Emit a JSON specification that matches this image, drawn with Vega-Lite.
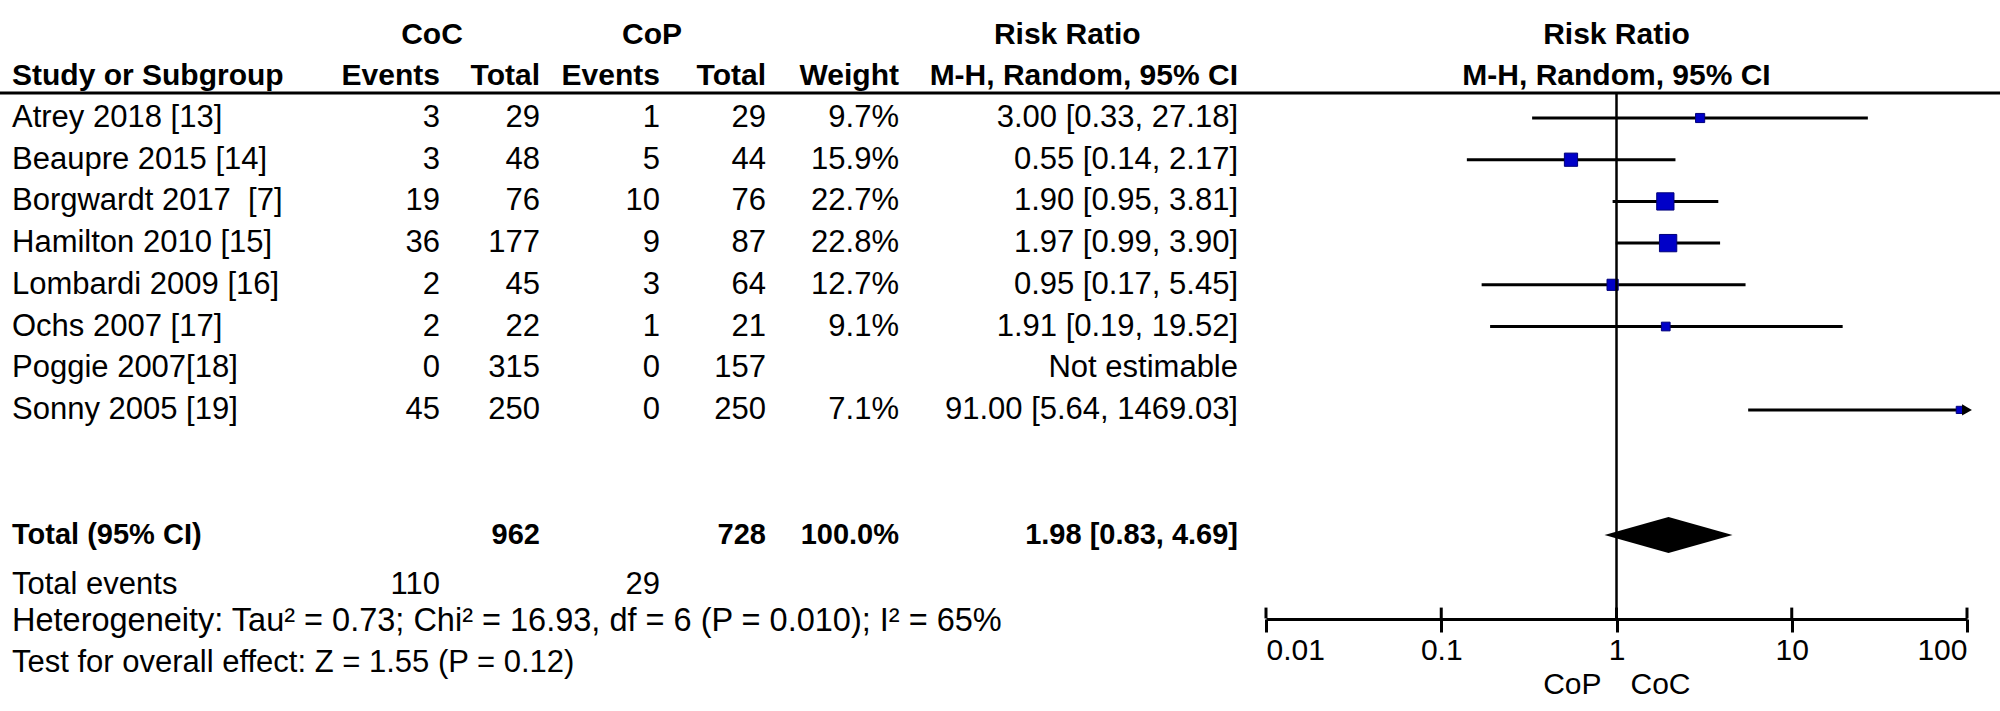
{
  "$schema": "https://vega.github.io/schema/vega-lite/v6.json",
  "width": 2000,
  "height": 711,
  "autosize": {"type": "none"},
  "padding": 0,
  "background": "white",
  "config": {
    "view": {"stroke": null},
    "text": {"font": "Liberation Sans", "fontSize": 31, "baseline": "middle", "color": "black"}
  },
  "datasets": {
    "studies": [
      {"row": 1, "study": "Atrey 2018 [13]", "coc_events": 3, "coc_total": 29, "cop_events": 1, "cop_total": 29, "weight": 0.097, "rr": 3.0, "lo": 0.33, "hi": 27.18, "ci": "3.00 [0.33, 27.18]"},
      {"row": 2, "study": "Beaupre 2015 [14]", "coc_events": 3, "coc_total": 48, "cop_events": 5, "cop_total": 44, "weight": 0.159, "rr": 0.55, "lo": 0.14, "hi": 2.17, "ci": "0.55 [0.14, 2.17]"},
      {"row": 3, "study": "Borgwardt 2017\u00a0 [7]", "coc_events": 19, "coc_total": 76, "cop_events": 10, "cop_total": 76, "weight": 0.227, "rr": 1.9, "lo": 0.95, "hi": 3.81, "ci": "1.90 [0.95, 3.81]"},
      {"row": 4, "study": "Hamilton 2010 [15]", "coc_events": 36, "coc_total": 177, "cop_events": 9, "cop_total": 87, "weight": 0.228, "rr": 1.97, "lo": 0.99, "hi": 3.9, "ci": "1.97 [0.99, 3.90]"},
      {"row": 5, "study": "Lombardi 2009 [16]", "coc_events": 2, "coc_total": 45, "cop_events": 3, "cop_total": 64, "weight": 0.127, "rr": 0.95, "lo": 0.17, "hi": 5.45, "ci": "0.95 [0.17, 5.45]"},
      {"row": 6, "study": "Ochs 2007 [17]", "coc_events": 2, "coc_total": 22, "cop_events": 1, "cop_total": 21, "weight": 0.091, "rr": 1.91, "lo": 0.19, "hi": 19.52, "ci": "1.91 [0.19, 19.52]"},
      {"row": 7, "study": "Poggie 2007[18]", "coc_events": 0, "coc_total": 315, "cop_events": 0, "cop_total": 157, "weight": null, "rr": null, "lo": null, "hi": null, "ci": "Not estimable"},
      {"row": 8, "study": "Sonny 2005 [19]", "coc_events": 45, "coc_total": 250, "cop_events": 0, "cop_total": 250, "weight": 0.071, "rr": 91.0, "lo": 5.64, "hi": 1469.03, "ci": "91.00 [5.64, 1469.03]"}
    ],
    "total": [
      {"row": 11, "label": "Total (95% CI)", "coc_total": 962, "cop_total": 728, "weight": 1.0, "rr": 1.98, "lo": 0.83, "hi": 4.69, "ci": "1.98 [0.83, 4.69]"}
    ],
    "footer": [
      {"row": 12, "label": "Total events", "coc_events": 110, "cop_events": 29},
      {"row": 13, "label": "Heterogeneity: Tau\u00b2 = 0.73; Chi\u00b2 = 16.93, df = 6 (P = 0.010); I\u00b2 = 65%"},
      {"row": 14, "label": "Test for overall effect: Z = 1.55 (P = 0.12)"}
    ],
    "hdr_cols": [
      {"row": 0, "col": 1, "label": "Events"},
      {"row": 0, "col": 2, "label": "Total"},
      {"row": 0, "col": 3, "label": "Events"},
      {"row": 0, "col": 4, "label": "Total"},
      {"row": 0, "col": 5, "label": "Weight"},
      {"row": 0, "col": 6, "label": "M-H, Random, 95% CI"}
    ],
    "hdr_groups": [
      {"row": -1, "col": 1, "label": "CoC"},
      {"row": -1, "col": 3, "label": "CoP"},
      {"row": -1, "col": 5.52, "label": "Risk Ratio"}
    ],
    "forest_hdr": [
      {"row": -1, "label": "Risk Ratio"},
      {"row": 0, "label": "M-H, Random, 95% CI"}
    ],
    "ticks": [
      {"tick": 0.01}, {"tick": 0.1}, {"tick": 1}, {"tick": 10}, {"tick": 100}
    ],
    "sides": [
      {"label": "CoP"}, {"label": "CoC"}
    ]
  },
  "layer": [
    {
      "layer": [
        {
          "data": {"name": "studies"},
          "mark": {"type": "text", "align": "left"},
          "encoding": {
            "x": {"datum": 0, "type": "quantitative", "scale": {"domain": [0, 1, 2, 3, 4, 5, 6], "range": [12, 440, 540, 660, 766, 899, 1238], "nice": false, "zero": false}, "axis": null},
            "y": {"field": "row", "type": "quantitative", "scale": {"domain": [-1.83, 15.22], "reverse": true, "nice": false, "zero": false}, "axis": null},
            "text": {"field": "study", "type": "nominal"}
          }
        },
        {
          "data": {"name": "studies"},
          "mark": {"type": "text", "align": "right"},
          "encoding": {
            "x": {"datum": 1, "type": "quantitative", "axis": null},
            "y": {"field": "row", "type": "quantitative", "axis": null},
            "text": {"field": "coc_events", "type": "nominal"}
          }
        },
        {
          "data": {"name": "studies"},
          "mark": {"type": "text", "align": "right"},
          "encoding": {
            "x": {"datum": 2, "type": "quantitative", "axis": null},
            "y": {"field": "row", "type": "quantitative", "axis": null},
            "text": {"field": "coc_total", "type": "nominal"}
          }
        },
        {
          "data": {"name": "studies"},
          "mark": {"type": "text", "align": "right"},
          "encoding": {
            "x": {"datum": 3, "type": "quantitative", "axis": null},
            "y": {"field": "row", "type": "quantitative", "axis": null},
            "text": {"field": "cop_events", "type": "nominal"}
          }
        },
        {
          "data": {"name": "studies"},
          "mark": {"type": "text", "align": "right"},
          "encoding": {
            "x": {"datum": 4, "type": "quantitative", "axis": null},
            "y": {"field": "row", "type": "quantitative", "axis": null},
            "text": {"field": "cop_total", "type": "nominal"}
          }
        },
        {
          "data": {"name": "studies"},
          "transform": [{"filter": "isValid(datum.weight)"}],
          "mark": {"type": "text", "align": "right"},
          "encoding": {
            "x": {"datum": 5, "type": "quantitative", "axis": null},
            "y": {"field": "row", "type": "quantitative", "axis": null},
            "text": {"field": "weight", "type": "quantitative", "format": ".1%"}
          }
        },
        {
          "data": {"name": "studies"},
          "mark": {"type": "text", "align": "right"},
          "encoding": {
            "x": {"datum": 6, "type": "quantitative", "axis": null},
            "y": {"field": "row", "type": "quantitative", "axis": null},
            "text": {"field": "ci", "type": "nominal"}
          }
        },
        {
          "data": {"name": "total"},
          "mark": {"type": "text", "align": "left", "fontWeight": "bold", "fontSize": 29},
          "encoding": {
            "x": {"datum": 0, "type": "quantitative", "axis": null},
            "y": {"field": "row", "type": "quantitative", "axis": null},
            "text": {"field": "label", "type": "nominal"}
          }
        },
        {
          "data": {"name": "total"},
          "mark": {"type": "text", "align": "right", "fontWeight": "bold", "fontSize": 29},
          "encoding": {
            "x": {"datum": 2, "type": "quantitative", "axis": null},
            "y": {"field": "row", "type": "quantitative", "axis": null},
            "text": {"field": "coc_total", "type": "nominal"}
          }
        },
        {
          "data": {"name": "total"},
          "mark": {"type": "text", "align": "right", "fontWeight": "bold", "fontSize": 29},
          "encoding": {
            "x": {"datum": 4, "type": "quantitative", "axis": null},
            "y": {"field": "row", "type": "quantitative", "axis": null},
            "text": {"field": "cop_total", "type": "nominal"}
          }
        },
        {
          "data": {"name": "total"},
          "mark": {"type": "text", "align": "right", "fontWeight": "bold", "fontSize": 29},
          "encoding": {
            "x": {"datum": 5, "type": "quantitative", "axis": null},
            "y": {"field": "row", "type": "quantitative", "axis": null},
            "text": {"field": "weight", "type": "quantitative", "format": ".1%"}
          }
        },
        {
          "data": {"name": "total"},
          "mark": {"type": "text", "align": "right", "fontWeight": "bold", "fontSize": 29},
          "encoding": {
            "x": {"datum": 6, "type": "quantitative", "axis": null},
            "y": {"field": "row", "type": "quantitative", "axis": null},
            "text": {"field": "ci", "type": "nominal"}
          }
        },
        {
          "data": {"name": "footer"},
          "transform": [{"filter": "datum.row == 12"}],
          "mark": {"type": "text", "align": "left", "dy": 8},
          "encoding": {
            "x": {"datum": 0, "type": "quantitative", "axis": null},
            "y": {"field": "row", "type": "quantitative", "axis": null},
            "text": {"field": "label", "type": "nominal"}
          }
        },
        {
          "data": {"name": "footer"},
          "transform": [{"filter": "datum.row == 13"}],
          "mark": {"type": "text", "align": "left", "dy": 3, "fontSize": 32.5},
          "encoding": {
            "x": {"datum": 0, "type": "quantitative", "axis": null},
            "y": {"field": "row", "type": "quantitative", "axis": null},
            "text": {"field": "label", "type": "nominal"}
          }
        },
        {
          "data": {"name": "footer"},
          "transform": [{"filter": "datum.row == 14"}],
          "mark": {"type": "text", "align": "left", "dy": 3},
          "encoding": {
            "x": {"datum": 0, "type": "quantitative", "axis": null},
            "y": {"field": "row", "type": "quantitative", "axis": null},
            "text": {"field": "label", "type": "nominal"}
          }
        },
        {
          "data": {"name": "footer"},
          "transform": [{"filter": "isValid(datum.coc_events)"}],
          "mark": {"type": "text", "align": "right", "dy": 8},
          "encoding": {
            "x": {"datum": 1, "type": "quantitative", "axis": null},
            "y": {"field": "row", "type": "quantitative", "axis": null},
            "text": {"field": "coc_events", "type": "nominal"}
          }
        },
        {
          "data": {"name": "footer"},
          "transform": [{"filter": "isValid(datum.cop_events)"}],
          "mark": {"type": "text", "align": "right", "dy": 8},
          "encoding": {
            "x": {"datum": 3, "type": "quantitative", "axis": null},
            "y": {"field": "row", "type": "quantitative", "axis": null},
            "text": {"field": "cop_events", "type": "nominal"}
          }
        },
        {
          "data": {"values": [{"label": "Study or Subgroup", "row": 0}]},
          "mark": {"type": "text", "align": "left", "fontWeight": "bold", "fontSize": 30},
          "encoding": {
            "x": {"datum": 0, "type": "quantitative", "axis": null},
            "y": {"field": "row", "type": "quantitative", "axis": null},
            "text": {"field": "label", "type": "nominal"}
          }
        },
        {
          "data": {"name": "hdr_cols"},
          "mark": {"type": "text", "align": "right", "fontWeight": "bold", "fontSize": 30},
          "encoding": {
            "x": {"field": "col", "type": "quantitative", "axis": null},
            "y": {"field": "row", "type": "quantitative", "axis": null},
            "text": {"field": "label", "type": "nominal"}
          }
        },
        {
          "data": {"name": "hdr_groups"},
          "mark": {"type": "text", "align": "center", "fontWeight": "bold", "fontSize": 30, "dx": -8},
          "encoding": {
            "x": {"field": "col", "type": "quantitative", "axis": null},
            "y": {"field": "row", "type": "quantitative", "axis": null},
            "text": {"field": "label", "type": "nominal"}
          }
        }
      ]
    },
    {
      "layer": [
        {
          "data": {"name": "studies"},
          "transform": [{"filter": "isValid(datum.rr)"}],
          "mark": {"type": "rule", "strokeWidth": 3, "color": "black"},
          "encoding": {
            "x": {
              "field": "lo", "type": "quantitative",
              "scale": {"type": "log", "domain": [0.01, 100], "range": [1266, 1967], "clamp": true, "nice": false},
              "axis": {
                "values": [0.01, 0.1, 1, 10, 100], "format": "~g", "orient": "bottom", "offset": -92,
                "title": null, "grid": false,
                "domainColor": "black", "domainWidth": 3,
                "tickColor": "black", "tickWidth": 3, "tickSize": 13,
                "labelFont": "Liberation Sans", "labelFontSize": 30, "labelColor": "black",
                "labelPadding": 3, "labelFlush": true, "labelOverlap": false
              }
            },
            "x2": {"field": "hi"},
            "y": {"field": "row", "type": "quantitative", "axis": null}
          }
        },
        {
          "data": {"name": "studies"},
          "transform": [{"filter": "isValid(datum.rr)"}],
          "mark": {"type": "point", "shape": "square", "filled": true, "color": "#0000c8", "stroke": "#00007a", "strokeWidth": 1, "opacity": 1},
          "encoding": {
            "x": {"field": "rr", "type": "quantitative"},
            "y": {"field": "row", "type": "quantitative", "axis": null},
            "size": {"field": "weight", "type": "quantitative", "scale": {"type": "pow", "exponent": 1.5, "domain": [0, 0.228], "range": [0, 300]}, "legend": null}
          }
        },
        {
          "data": {"name": "studies"},
          "transform": [{"filter": "datum.hi > 100"}],
          "mark": {"type": "point", "shape": "triangle-right", "filled": true, "color": "black", "size": 130, "opacity": 1},
          "encoding": {
            "x": {"field": "hi", "type": "quantitative"},
            "y": {"field": "row", "type": "quantitative", "axis": null}
          }
        },
        {
          "data": {"name": "total"},
          "mark": {"type": "point", "shape": "M-1,0L0,-0.281L1,0L0,0.281Z", "size": 16384, "filled": true, "color": "black", "opacity": 1},
          "encoding": {
            "x": {"field": "rr", "type": "quantitative"},
            "y": {"field": "row", "type": "quantitative", "axis": null}
          }
        },
        {
          "data": {"values": [{}]},
          "mark": {"type": "rule", "strokeWidth": 2.5, "color": "black"},
          "encoding": {
            "x": {"datum": 1, "type": "quantitative"},
            "y": {"datum": 0.4, "type": "quantitative", "axis": null},
            "y2": {"datum": 13}
          }
        },
        {
          "data": {"name": "ticks"},
          "mark": {"type": "rule", "strokeWidth": 3, "color": "black"},
          "encoding": {
            "x": {"field": "tick", "type": "quantitative"},
            "y": {"datum": 12.74, "type": "quantitative", "axis": null},
            "y2": {"datum": 13}
          }
        },
        {
          "data": {"name": "forest_hdr"},
          "mark": {"type": "text", "align": "center", "fontWeight": "bold", "fontSize": 30},
          "encoding": {
            "x": {"datum": 1, "type": "quantitative"},
            "y": {"field": "row", "type": "quantitative", "axis": null},
            "text": {"field": "label", "type": "nominal"}
          }
        },
        {
          "data": {"name": "sides"},
          "transform": [{"filter": "datum.label == 'CoP'"}],
          "mark": {"type": "text", "align": "right", "dx": -15, "fontSize": 30},
          "encoding": {
            "x": {"datum": 1, "type": "quantitative"},
            "y": {"datum": 14.6, "type": "quantitative", "axis": null},
            "text": {"field": "label", "type": "nominal"}
          }
        },
        {
          "data": {"name": "sides"},
          "transform": [{"filter": "datum.label == 'CoC'"}],
          "mark": {"type": "text", "align": "left", "dx": 14, "fontSize": 30},
          "encoding": {
            "x": {"datum": 1, "type": "quantitative"},
            "y": {"datum": 14.6, "type": "quantitative", "axis": null},
            "text": {"field": "label", "type": "nominal"}
          }
        }
      ]
    },
    {
      "data": {"values": [{}]},
      "mark": {"type": "rule", "strokeWidth": 3, "color": "black"},
      "encoding": {
        "y": {"datum": 0.4, "type": "quantitative", "axis": null}
      }
    }
  ],
  "resolve": {"scale": {"x": "independent"}}
}
